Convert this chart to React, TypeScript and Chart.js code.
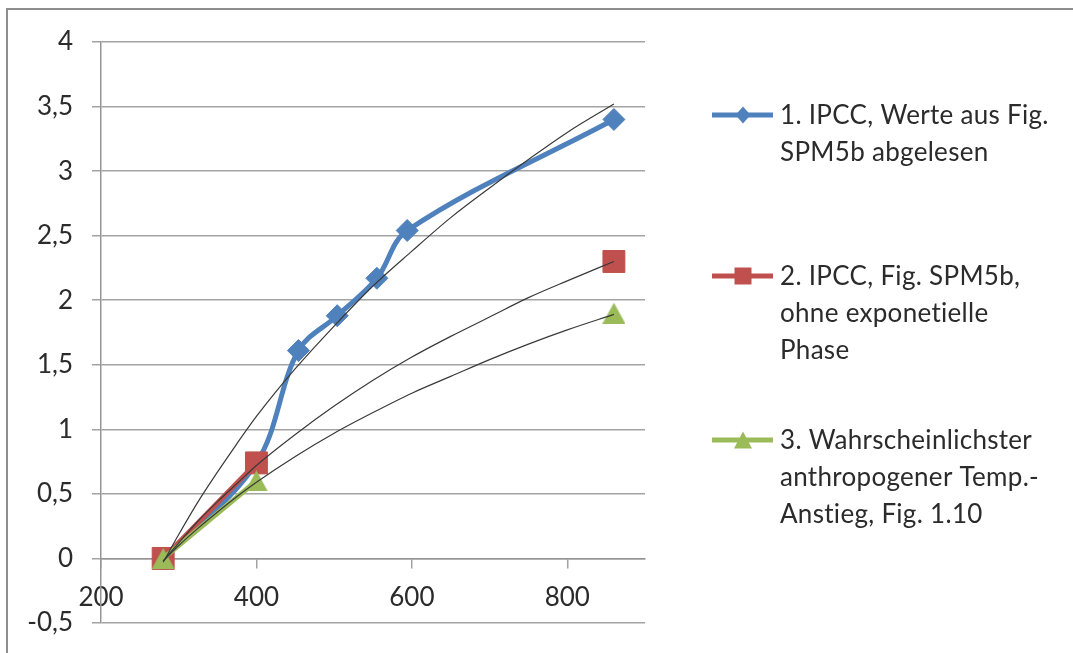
import React, { useEffect, useRef } from 'react';
import { Chart, registerables } from 'chart.js';

Chart.register(...registerables);

// ---------- data ----------
const xTickValues = [200, 400, 600, 800];

const blueX = [280, 400, 454, 504, 555, 594, 860];
const blueY = [0, 0.74, 1.61, 1.88, 2.17, 2.54, 3.4];

const redX = [280, 400, 600, 860];
const redY: (number | null)[] = [0, 0.74, null, 2.3];

const greenX = [280, 400, 600, 860];
const greenY: (number | null)[] = [0, 0.6, null, 1.9];

const trendX = [280, 300, 325, 350, 375, 400, 450, 500, 550, 600, 650, 700, 750, 800, 860];
const trendBlueY = [-0.03, 0.185, 0.44, 0.67, 0.89, 1.1, 1.47, 1.8, 2.11, 2.38, 2.64, 2.87, 3.09, 3.3, 3.52];
const trendRedY = [-0.02, 0.12, 0.29, 0.44, 0.58, 0.72, 0.96, 1.18, 1.38, 1.56, 1.72, 1.87, 2.02, 2.15, 2.3];
const trendGreenY = [-0.02, 0.1, 0.235, 0.36, 0.48, 0.59, 0.79, 0.97, 1.13, 1.28, 1.41, 1.54, 1.66, 1.77, 1.89];

const legendLabels = [
  ['1. IPCC, Werte aus Fig.', 'SPM5b abgelesen'],
  ['2. IPCC, Fig. SPM5b,', 'ohne exponetielle', 'Phase'],
  ['3. Wahrscheinlichster', 'anthropogener Temp.-', 'Anstieg, Fig. 1.10'],
];

// ---------- styles ----------
const BLUE = '#4F81BD';
const RED = '#C0504D';
const GREEN = '#9BBB59';
const TREND = '#3a3a3a';
const GRID = '#a3a3a3';
const AXIS = '#959595';
const TEXT = '#2b2b2b';
const FONT_FAMILY = 'Lato, "Open Sans", sans-serif';
const FONT_SIZE = 26;

const toPoints = (xs: number[], ys: (number | null)[]) => xs.map((x, i) => ({ x, y: ys[i] }));

function makeTriangle(w: number, h: number, color: string) {
  const c = document.createElement('canvas');
  c.width = w;
  c.height = h;
  const g = c.getContext('2d')!;
  g.fillStyle = color;
  g.beginPath();
  g.moveTo(w / 2, 0);
  g.lineTo(w, h);
  g.lineTo(0, h);
  g.closePath();
  g.fill();
  return c;
}

function drawMarker(ctx: CanvasRenderingContext2D, kind: string, x: number, y: number, color: string) {
  ctx.fillStyle = color;
  ctx.beginPath();
  if (kind === 'diamond') {
    const w = 7.5, h = 8.5;
    ctx.moveTo(x, y - h);
    ctx.lineTo(x + w, y);
    ctx.lineTo(x, y + h);
    ctx.lineTo(x - w, y);
  } else if (kind === 'square') {
    const s = 8.5;
    ctx.rect(x - s, y - s, 2 * s, 2 * s);
  } else {
    const w = 9, h = 8.5;
    ctx.moveTo(x, y - h);
    ctx.lineTo(x + w, y + h);
    ctx.lineTo(x - w, y + h);
  }
  ctx.closePath();
  ctx.fill();
}

const legendPlugin = {
  id: 'sideLegend',
  afterDraw(chart: any) {
    const ctx: CanvasRenderingContext2D = chart.ctx;
    const firstLineY = [116, 277, 441];
    const lineGap = 37;
    const colors = [BLUE, RED, GREEN];
    const kinds = ['diamond', 'square', 'triangle'];
    ctx.save();
    legendLabels.forEach((lines, i) => {
      const y0 = firstLineY[i];
      ctx.strokeStyle = colors[i];
      ctx.lineWidth = 5;
      ctx.beginPath();
      ctx.moveTo(712, y0 - 1);
      ctx.lineTo(773, y0 - 1);
      ctx.stroke();
      drawMarker(ctx, kinds[i], 743, y0 - 1, colors[i]);
      ctx.fillStyle = TEXT;
      ctx.font = `${FONT_SIZE}px ${FONT_FAMILY}`;
      (ctx as any).letterSpacing = '0.3px';
      ctx.textBaseline = 'middle';
      ctx.textAlign = 'left';
      lines.forEach((t, j) => ctx.fillText(t, 780, y0 + j * lineGap));
    });
    ctx.restore();
  },
};

export default function App() {
  const ref = useRef<HTMLCanvasElement>(null);

  useEffect(() => {
    const tri = makeTriangle(23, 21, GREEN);
    const font = { family: FONT_FAMILY, size: FONT_SIZE };
    const chart = new Chart(ref.current!, {
      type: 'line',
      data: {
        datasets: [
          {
            label: 'trend1',
            data: toPoints(trendX, trendBlueY),
            borderColor: TREND,
            borderWidth: 1.2,
            pointRadius: 0,
            cubicInterpolationMode: 'monotone',
            order: 0,
          },
          {
            label: 'trend2',
            data: toPoints(trendX, trendRedY),
            borderColor: TREND,
            borderWidth: 1.2,
            pointRadius: 0,
            cubicInterpolationMode: 'monotone',
            order: 0,
          },
          {
            label: 'trend3',
            data: toPoints(trendX, trendGreenY),
            borderColor: TREND,
            borderWidth: 1.2,
            pointRadius: 0,
            cubicInterpolationMode: 'monotone',
            order: 0,
          },
          {
            label: legendLabels[2].join(' '),
            data: toPoints(greenX, greenY),
            borderColor: GREEN,
            backgroundColor: GREEN,
            borderWidth: 5,
            pointStyle: tri as any,
            pointRadius: 11,
            tension: 0,
            spanGaps: false,
            order: 1,
          },
          {
            label: legendLabels[1].join(' '),
            data: toPoints(redX, redY),
            borderColor: RED,
            backgroundColor: RED,
            pointBorderColor: RED,
            borderWidth: 5,
            pointBorderWidth: 1,
            pointStyle: 'rect',
            pointRadius: 15.5,
            tension: 0,
            spanGaps: false,
            order: 2,
          },
          {
            label: legendLabels[0].join(' '),
            data: toPoints(blueX, blueY),
            borderColor: BLUE,
            backgroundColor: BLUE,
            pointBorderColor: BLUE,
            borderWidth: 5,
            pointBorderWidth: 1,
            pointStyle: 'rectRot',
            pointRadius: 11,
            tension: 0.35,
            order: 3,
          },
        ] as any,
      },
      options: {
        animation: false,
        responsive: true,
        maintainAspectRatio: false,
        events: [],
        layout: { padding: { left: 0, right: 428, top: 42, bottom: 30 } },
        plugins: {
          legend: { display: false },
          tooltip: { enabled: false },
          title: { display: false },
        },
        scales: {
          x: {
            type: 'linear',
            min: 200,
            max: 900,
            position: { y: 0 } as any,
            afterBuildTicks: (s: any) => {
              s.ticks = xTickValues.map((v) => ({ value: v }));
            },
            grid: { drawOnChartArea: false, drawTicks: true, tickLength: 9, color: GRID, lineWidth: 1.5 },
            border: { display: true, color: AXIS, width: 1.5 },
            ticks: { font, color: TEXT, padding: 15, maxRotation: 0, autoSkip: false, callback: (v: any) => String(v) },
          },
          y: {
            type: 'linear',
            min: -0.5,
            max: 4,
            position: 'left',
            afterFit: (s: any) => {
              s.width = 101;
              s.paddingTop = 10;
              s.paddingBottom = 10;
            },
            grid: { color: GRID, lineWidth: 1.5, drawTicks: true, tickLength: 9 },
            border: { display: true, color: AXIS, width: 1.5 },
            ticks: {
              stepSize: 0.5,
              font,
              color: TEXT,
              padding: 19,
              callback: (v: any) => String(Math.round(Number(v) * 10) / 10).replace('.', ','),
            },
          },
        },
      },
      plugins: [legendPlugin],
    });
    if ((document as any).fonts && (document as any).fonts.load) {
      (document as any).fonts.load(`${FONT_SIZE}px Lato`).then(() => chart.update()).catch(() => {});
    }
    return () => chart.destroy();
  }, []);

  return (
    <div style={{ position: 'fixed', left: 0, top: 0, width: 1073, height: 653, overflow: 'hidden', background: '#fff' }}>
      <div
        style={{
          position: 'absolute',
          left: 6,
          top: 8,
          width: 2000,
          height: 2000,
          border: '2px solid #8e8e8e',
          boxSizing: 'border-box',
        }}
      />
      <div style={{ position: 'absolute', left: 0, top: 0, width: 1073, height: 653 }}>
        <canvas ref={ref} />
      </div>
    </div>
  );
}
